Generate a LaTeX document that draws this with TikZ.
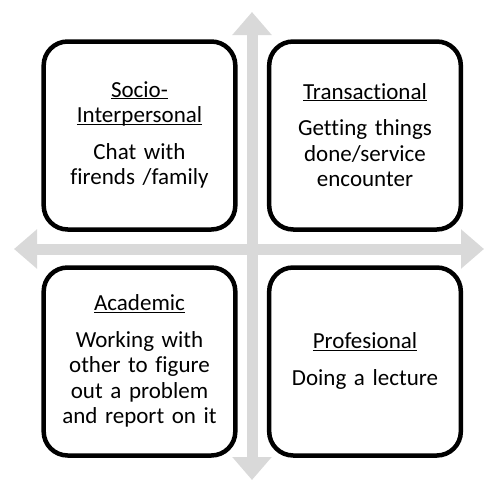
\documentclass[tikz,border=0pt]{standalone}
\usepackage{fontspec}
\setmainfont{Carlito}[Ligatures=CommonOff]
\usetikzlibrary{positioning}
\usetikzlibrary{arrows.meta}
\newcommand{\ulabel}[1]{\underline{\smash{#1}}\vphantom{Ag}}
\tikzset{every picture/.style={line width=1pt},
quad/.style={draw, fill=white, line width=4.5pt, rounded corners=24pt, minimum width=190pt, minimum height=188pt, text width=185pt, align=center, font=\fontsize{23}{25.5}\selectfont},
axis/.style={draw=gray!30, line width=11pt, {Triangle[width=38pt,length=23pt]}-{Triangle[width=38pt,length=23pt]}}}

\begin{document}
\begin{tikzpicture}[x=1pt,y=-1pt]
\useasboundingbox (0,0) rectangle (485,482);
\coordinate (north) at (252,12);
\coordinate (south) at (252,480);
\coordinate (west) at (14,249);
\coordinate (east) at (484,249);
\draw[axis] (north) -- (south);
\draw[axis] (west) -- (east);
\node (socio) [quad] at (139.5,135.5) {\ulabel{Socio-}\\\ulabel{Interpersonal}\\[11pt]Chat with\\firends /family};
\node (trans) [quad, right of = socio, node distance = 225.5pt] {\ulabel{Transactional}\\[11pt]Getting things\\done/service\\encounter};
\node (acad) [quad, below of = socio, node distance = 226pt] {\ulabel{Academic}\\[11pt]Working with\\other to figure\\out a problem\\and report on it};
\node (prof) [quad, below of = trans, node distance = 226pt] {\ulabel{Profesional}\\[11pt]Doing a lecture};
\end{tikzpicture}
\end{document}
